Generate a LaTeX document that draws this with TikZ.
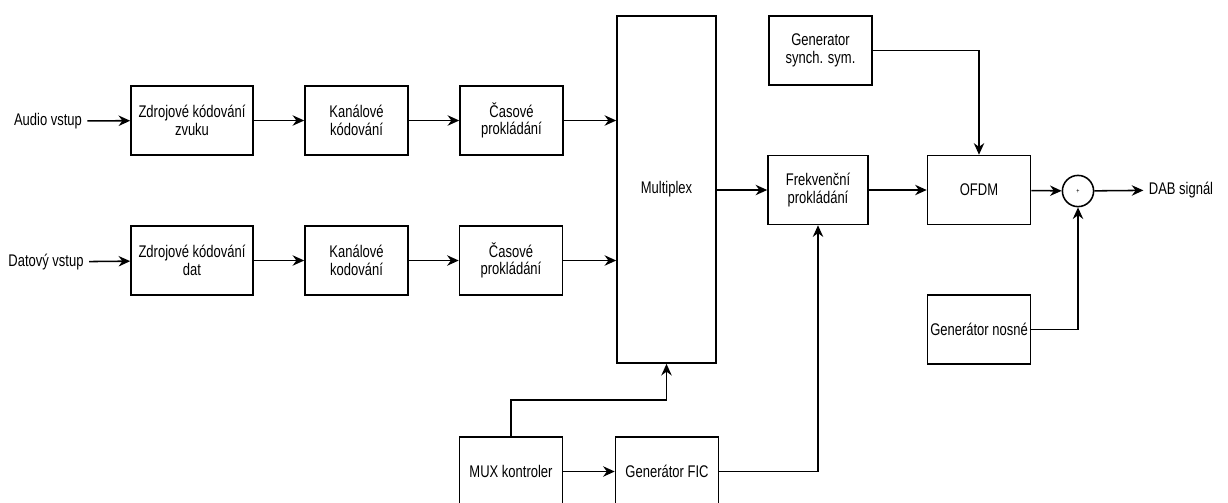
\documentclass[tikz,border=0pt]{standalone}
\usepackage{fontspec}
\setmainfont{Liberation Sans}[FakeStretch=0.77]
\usetikzlibrary{arrows.meta}

\begin{document}
\begin{tikzpicture}[x=0.025cm, y=-0.025cm, line width=1.1pt,
	>={Stealth[length=2.9mm,width=2.6mm]},
	blok/.style={draw, rectangle, align=center, minimum width=2.575cm, minimum height=1.725cm, inner sep=1pt, font=\fontsize{12}{12.5}\selectfont},
	popis/.style={font=\fontsize{12}{12.5}\selectfont}]
			\useasboundingbox (0,0) rectangle (1228,502);
			\node[popis] (audio) at (48,121) {Audio vstup};
			\node[blok, minimum width=3.05cm] (zvuk) at (192,120.5) {Zdrojové kódování\\zvuku};
			\node[blok] (kan1) at (356.5,120.5) {Kanálové\\kódování};
			\node[blok] (cas1) at (511.5,120.5) {Časové\\prokládání};
			\node[popis] (datovy) at (46,262) {Datový vstup};
			\node[blok, minimum width=3.05cm] (dat) at (192,260.5) {Zdrojové kódování\\dat};
			\node[blok] (kan2) at (356.5,260.5) {Kanálové\\kodování};
			\node[blok] (cas2) at (511,260.5) {Časové\\prokládání};
			\node[blok, minimum width=2.475cm, minimum height=8.675cm] (mux) at (666.5,189.5) {Multiplex};
			\node[blok, minimum width=2.5cm] (frek) at (818,190) {Frekvenční\\prokládání};
			\node[blok] (synch) at (820.5,50.5) {Generator\\synch. sym.};
			\node[blok] (ofdm) at (979,190) {OFDM};
			\node[draw, circle, minimum size=0.78cm, inner sep=0pt, font=\tiny] (suma) at (1078,191) {+};
			\node[popis] (dab) at (1181,190) {DAB signál};
			\node[blok] (nosna) at (979,329.5) {Generátor nosné};
			\node[blok] (kontroler) at (511,471.5) {MUX kontroler};
			\node[blok] (fic) at (667,471.5) {Generátor FIC};
			\draw[->] (audio) -- (zvuk);
			\draw[->] (zvuk) -- (kan1);
			\draw[->] (kan1) -- (cas1);
			\draw[->] (cas1) -- (cas1 -| mux.west);
			\draw[->] (datovy) -- (dat);
			\draw[->] (dat) -- (kan2);
			\draw[->] (kan2) -- (cas2);
			\draw[->] (cas2) -- (cas2 -| mux.west);
			\draw[->] (frek -| mux.east) -- (frek);
			\draw[->] (frek) -- (ofdm);
			\draw[->] (ofdm) -- (suma);
			\draw[->] (suma) -- (dab);
			\draw[->] (synch) -| (ofdm);
			\draw[->] (nosna) -| (suma);
			\draw[->] (kontroler) -- (fic);
			\draw[->] (fic) -| (frek);
			\draw[->] (kontroler.north) -- ++(0,-36) -| (mux.south);
\end{tikzpicture}
\end{document}
